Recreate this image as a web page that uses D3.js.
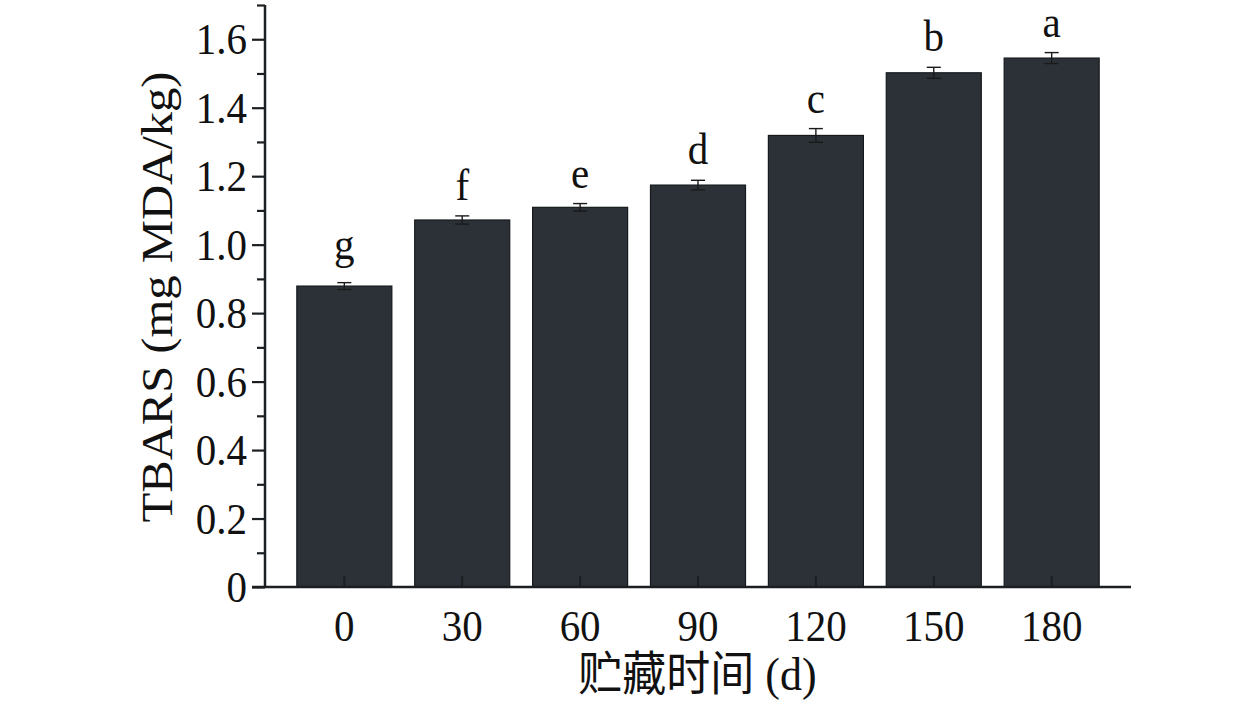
<!DOCTYPE html>
<html><head><meta charset="utf-8">
<script src="https://cdn.jsdelivr.net/npm/d3@7"></script>
<style>
html,body{margin:0;padding:0;background:#fff;}
text{font-family:"Times New Roman","Liberation Serif","Noto Sans CJK SC",serif;fill:#111;}
</style></head>
<body>
<svg id="chart" width="1260" height="708"></svg>
<script>
// ---- data ----
const categories = ["0","30","60","90","120","150","180"];
const values = [0.879, 1.072, 1.109, 1.174, 1.319, 1.502, 1.545];
const errors = [0.010, 0.012, 0.011, 0.014, 0.020, 0.016, 0.016];
const letters = ["g","f","e","d","c","b","a"];
const majorTicks = [0, 0.2, 0.4, 0.6, 0.8, 1.0, 1.2, 1.4, 1.6];
const majorTickLabels = ["0","0.2","0.4","0.6","0.8","1.0","1.2","1.4","1.6"];
const minorTicks = [0.1, 0.3, 0.5, 0.7, 0.9, 1.1, 1.3, 1.5, 1.7];
const yTitle = "TBARS (mg MDA/kg)";
const xTitle = "贮藏时间 (d)";

// ---- layout ----
const svg = d3.select("#chart");
const x0 = 265, x1 = 1131, y0 = 587, yTop = 5;
const x = d3.scaleBand().domain(categories).range([x0, x1]).paddingInner(0.194).paddingOuter(0.27);
const y = d3.scaleLinear().domain([0, 1.7]).range([y0, yTop]);
const axisColor = "#1b1f22";
const fs = 41, sy = 1.1;

// bars
svg.append("g").selectAll("rect").data(values).join("rect")
  .attr("x", (d,i) => x(categories[i]))
  .attr("width", x.bandwidth())
  .attr("y", d => y(d))
  .attr("height", d => y0 - y(d))
  .attr("fill", "#2b3137")
  .attr("stroke", "#15191c")
  .attr("stroke-width", 1.2);

// error bars
const eg = svg.append("g").attr("stroke", "#1a1a1a").attr("stroke-width", 1.4);
values.forEach((v,i) => {
  const cx = x(categories[i]) + x.bandwidth()/2;
  const hi = y(v + errors[i]), lo = y(v - errors[i]);
  eg.append("line").attr("x1", cx).attr("x2", cx).attr("y1", hi).attr("y2", lo);
  eg.append("line").attr("x1", cx-7).attr("x2", cx+7).attr("y1", hi).attr("y2", hi);
  eg.append("line").attr("x1", cx-7).attr("x2", cx+7).attr("y1", lo).attr("y2", lo);
});

// significance letters
svg.append("g").selectAll("text").data(letters).join("text")
  .attr("text-anchor", "middle")
  .attr("font-size", fs)
  .attr("transform", (d,i) => {
    const cx = x(categories[i]) + x.bandwidth()/2;
    const top = y(values[i] + errors[i]);
    const base = top - 16 - (/[gjpqy]/.test(d) ? 8 : 0);
    return `translate(${cx},${base}) scale(1,${sy})`;
  })
  .text(d => d);

// x axis
const xAxis = d3.axisBottom(x).tickSize(-11).tickPadding(0).tickFormat(() => "");
const gx = svg.append("g").attr("transform", `translate(0,${y0})`).call(xAxis);
gx.select(".domain").remove();
gx.selectAll(".tick line").attr("stroke", axisColor).attr("stroke-width", 2);
svg.append("line").attr("x1", x0 - 13).attr("x2", x1).attr("y1", y0).attr("y2", y0)
  .attr("stroke", axisColor).attr("stroke-width", 2.5);
svg.append("g").selectAll("text").data(categories).join("text")
  .attr("text-anchor", "middle")
  .attr("font-size", fs)
  .attr("transform", d => `translate(${x(d) + x.bandwidth()/2},${641}) scale(1,${sy})`)
  .text(d => d);

// y axis
const yMajor = d3.axisLeft(y).tickValues(majorTicks).tickSize(13).tickFormat(() => "");
const gy = svg.append("g").attr("transform", `translate(${x0},0)`).call(yMajor);
gy.select(".domain").remove();
gy.selectAll(".tick line").attr("stroke", axisColor).attr("stroke-width", 2.2);
const yMinor = d3.axisLeft(y).tickValues(minorTicks).tickSize(8).tickFormat(() => "");
const gy2 = svg.append("g").attr("transform", `translate(${x0},0)`).call(yMinor);
gy2.select(".domain").remove();
gy2.selectAll(".tick line").attr("stroke", axisColor).attr("stroke-width", 2.2);
svg.append("line").attr("x1", x0).attr("x2", x0).attr("y1", yTop).attr("y2", y0)
  .attr("stroke", axisColor).attr("stroke-width", 2.5);
svg.append("g").selectAll("text").data(majorTicks).join("text")
  .attr("text-anchor", "end")
  .attr("font-size", fs)
  .attr("transform", d => `translate(${x0 - 18},${y(d) + 15}) scale(1,${sy})`)
  .text((d,i) => majorTickLabels[i]);

// axis titles
svg.append("text")
  .attr("text-anchor", "middle")
  .attr("font-size", 45)
  .attr("transform", `translate(172,${297}) rotate(-90) scale(1.08,1)`)
  .text(yTitle);
svg.append("text")
  .attr("text-anchor", "middle")
  .attr("font-size", 44)
  .attr("transform", `translate(${(x0 + x1)/2 - 0.5},690) scale(1,1.05)`)
  .text(xTitle);
</script>
</body></html>
